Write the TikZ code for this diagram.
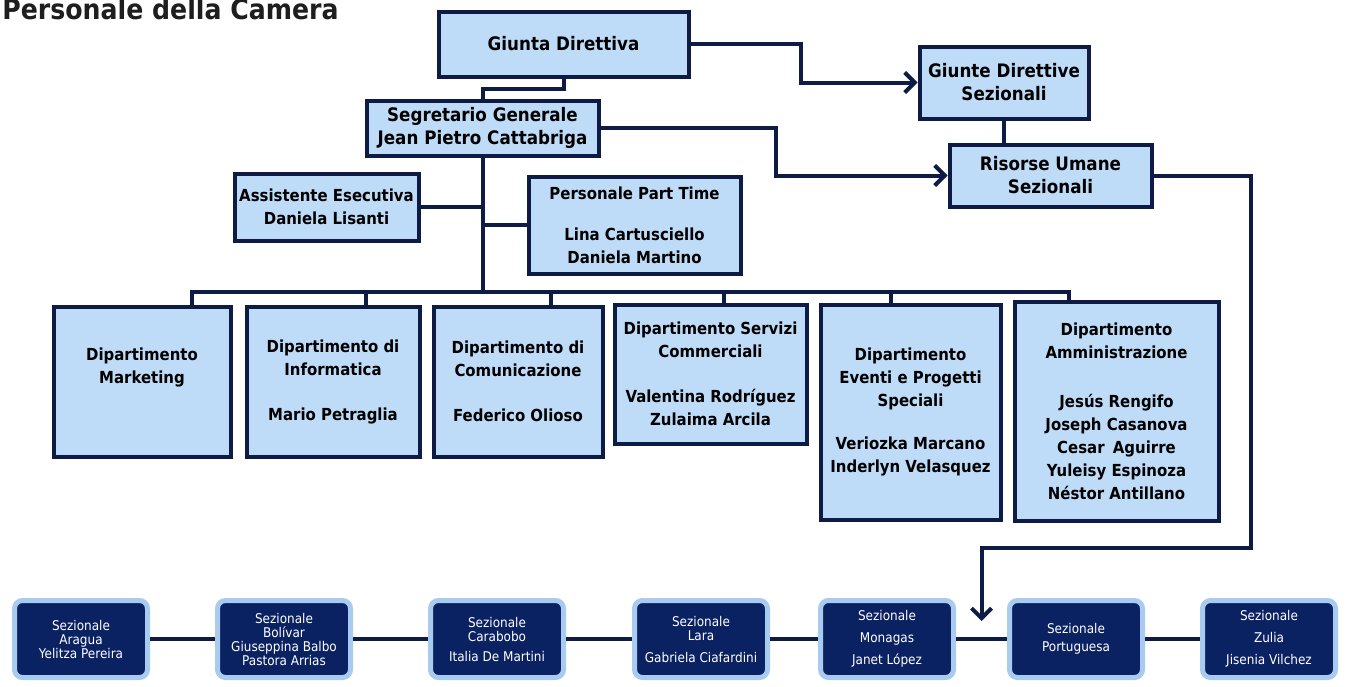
\documentclass[tikz,border=0pt]{standalone}
\usepackage{fontspec}
\setmainfont{DejaVu Sans}[FakeStretch=0.9]
\usepackage{xcolor}
\usepackage{tikz}
\usetikzlibrary{positioning,arrows.meta,calc}

\definecolor{boxline}{HTML}{0D1B45}
\definecolor{boxfill}{HTML}{BEDCF8}
\definecolor{sezfill}{HTML}{0B2262}
\definecolor{sezrim}{HTML}{A9CBEF}
\definecolor{titlegray}{HTML}{1E1E1E}

\begin{document}
\begin{tikzpicture}[x=0.5pt,y=-0.5pt,>={Straight Barb[length=5pt,width=10pt]},
                    box/.style={rectangle,draw=boxline,fill=boxfill,line width=2pt,align=center,inner sep=1pt},
                    top node/.style={box,font=\fontsize{9.3}{11.5}\selectfont\bfseries},
                    dept node/.style={box,font=\fontsize{8.3}{11.5}\selectfont\bfseries},
                    sez node/.style={rectangle,rounded corners=4pt,draw=sezrim,line width=2.5pt,fill=sezfill,
                    text=white,align=center,minimum width=66.5pt,minimum height=38.5pt,
                    font=\fontsize{6.7}{7}\selectfont},
                    link/.style={draw,color=boxline,line width=2pt},
                    drop/.style={to path={-| (\tikztotarget)}}]

\fill[white] (0,0) rectangle (1354,686);
\useasboundingbox (0,0) rectangle (1354,686);

\node[anchor=base west,inner sep=0,text=titlegray,font=\fontsize{14}{16}\selectfont\bfseries] (title) at (2,19) {Personale della Camera};

% vertici
\node[top node,minimum width=125pt,minimum height=32.5pt] (gd) at (563.5,44) {Giunta Direttiva};
\node[top node,minimum width=116pt,minimum height=27.5pt] (sg) at (482.5,128) {Segretario Generale\\Jean Pietro Cattabriga};
\node[top node,minimum width=84.5pt,minimum height=36pt] (gds) at (1004,82.5) {Giunte Direttive\\Sezionali};
\node[top node,minimum width=101pt,minimum height=31pt] (rus) at (1050.5,175.5) {Risorse Umane\\Sezionali};
\node[dept node,minimum width=92pt,minimum height=33.5pt] (ass) at (326.5,207) {Assistente Esecutiva\\Daniela Lisanti};
\node[dept node,minimum width=106pt,minimum height=48.5pt] (ppt) at (634.5,225) {Personale Part Time\\[9pt]Lina Cartusciello\\Daniela Martino};

% dipartimenti
\node[dept node,minimum width=88.5pt,minimum height=75pt] (mkt) at (142,381.5) {Dipartimento\\Marketing\\[4pt]};
\node[dept node,minimum width=86.5pt,minimum height=75pt] (inf) at (333,381.5) {Dipartimento di\\Informatica\\[11pt]Mario Petraglia};
\node[dept node,minimum width=84.5pt,minimum height=75pt] (com) at (518,381.5) {Dipartimento di\\Comunicazione\\[11pt]Federico Olioso};
\node[dept node,minimum width=96pt,minimum height=69.5pt] (ser) at (710.5,374) {Dipartimento Servizi\\Commerciali\\[11pt]Valentina Rodríguez\\Zulaima Arcila};
\node[dept node,minimum width=90pt,minimum height=107.5pt] (eve) at (910.5,412) {Dipartimento\\Eventi e Progetti\\Speciali\\[10pt]Veriozka Marcano\\Inderlyn Velasquez};
\node[dept node,minimum width=102pt,minimum height=109.5pt] (amm) at (1116.5,411) {Dipartimento\\Amministrazione\\[13pt]Jesús Rengifo\\Joseph Casanova\\Cesar\enspace Aguirre\\Yuleisy Espinoza\\Néstor Antillano};

% sezionali
\node[sez node] (ara) at (81,639) {Sezionale\\Aragua\\Yelitza Pereira};
\node[sez node] (bol) at (284,639) {Sezionale\\Bolívar\\Giuseppina Balbo\\Pastora Arrias};
\node[sez node] (car) at (497,639) {Sezionale\\Carabobo\\[3pt]Italia De Martini};
\node[sez node] (lar) at (701,639) {Sezionale\\Lara\\[4pt]Gabriela Ciafardini};
\node[sez node] (mon) at (887,639) {Sezionale\\[4pt]Monagas\\[4pt]Janet López};
\node[sez node] (por) at (1076,639) {Sezionale\\[2pt]Portuguesa};
\node[sez node] (zul) at (1269,639) {Sezionale\\[4pt]Zulia\\[4pt]Jisenia Vilchez};

\coordinate (bus) at (482.5,292);
\coordinate (join) at ($(mon.east)!0.5!(por.west)$);

\draw[link] (gd.south) -- ++(0,10) -| (sg.north);
\draw[link,->] (gd.east) -- ++(110,0) |- (gds.west);
\draw[link,->] (sg.east) -- ++(175,0) |- (rus.west);
\draw[link] (gds.south) -- (gds.south |- rus.north);
\draw[link] (ass.east) -- (ass.east -| sg.south);
\draw[link] (ppt.west) -- (ppt.west -| sg.south);
\draw[link] (sg.south) -- (bus);

\path (bus) edge[link,drop] ([xshift=25pt]mkt.north)
            edge[link,drop] ([xshift=16.5pt]inf.north)
            edge[link,drop] ([xshift=16.5pt]com.north)
            edge[link,drop] ([xshift=6.75pt]ser.north)
            edge[link,drop] ([xshift=-9.75pt]eve.north)
            edge[link,drop] ([xshift=-23.75pt]amm.north);

\path (ara) edge[link] (bol)
      (bol) edge[link] (car)
      (car) edge[link] (lar)
      (lar) edge[link] (mon)
      (mon) edge[link] (por)
      (por) edge[link] (zul);

\draw[link,->] (rus.east) -- ++(97,0) |- ([yshift=45.5pt]join) -- ([yshift=9pt]join);

\end{tikzpicture}
\end{document}
